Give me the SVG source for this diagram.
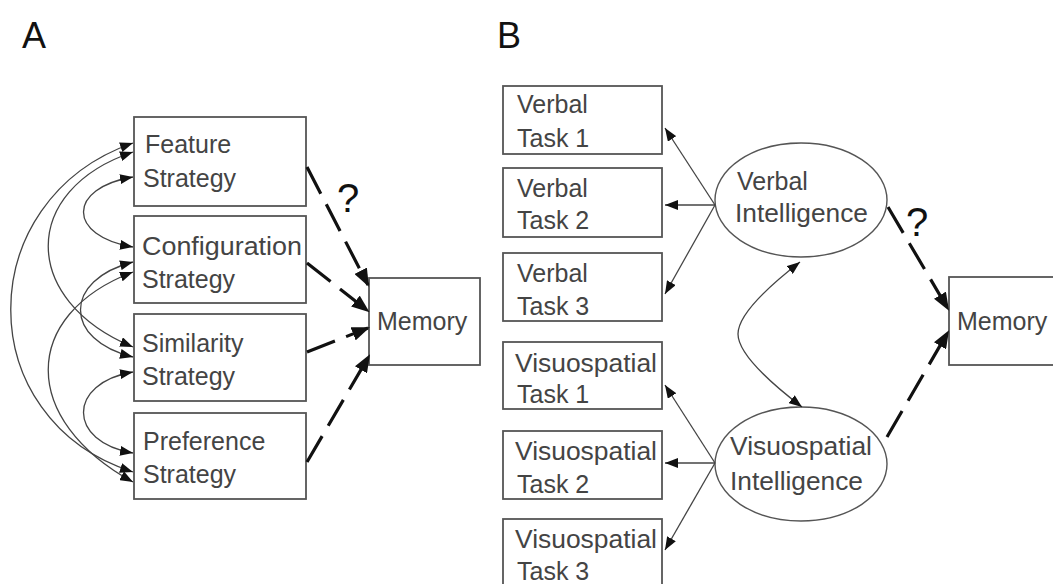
<svg xmlns="http://www.w3.org/2000/svg" width="1053" height="584" viewBox="0 0 1053 584">
<style>
.box{fill:#fff;stroke:#555;stroke-width:1.8}
.ell{fill:#fff;stroke:#555;stroke-width:1.4}
.t{font-family:"Liberation Sans",Arial,sans-serif;font-size:25px;fill:#444}
.lbl{font-family:"Liberation Sans",Arial,sans-serif;font-size:36px;fill:#111}
.q{font-family:"Liberation Sans",Arial,sans-serif;font-size:40px;fill:#111}
.thin{fill:none;stroke:#444;stroke-width:1.3;marker-end:url(#ah)}
.dbl{fill:none;stroke:#444;stroke-width:1.3;marker-start:url(#ah);marker-end:url(#ah)}
.dash{fill:none;stroke:#111;stroke-width:3.2;stroke-dasharray:30 12;marker-end:url(#ahb)}
</style>
<defs>
<marker id="ah" viewBox="0 0 13 10" refX="13" refY="5" markerWidth="13" markerHeight="10" markerUnits="userSpaceOnUse" orient="auto-start-reverse"><path d="M0,0 L13,5 L0,10 z" fill="#111"/></marker>
<marker id="ahb" viewBox="0 0 18 14" refX="16" refY="7" markerWidth="18" markerHeight="14" markerUnits="userSpaceOnUse" orient="auto"><path d="M0,0 L18,7 L0,14 z" fill="#111"/></marker>
</defs>
<rect width="1053" height="584" fill="#fff"/>
<text class="lbl" x="22" y="48">A</text>
<text class="lbl" x="497" y="48">B</text>

<g id="feature"><rect class="box" x="134" y="117" width="172" height="89"/><text class="t" x="145" y="153">Feature</text><text class="t" x="143" y="187">Strategy</text></g>
<g id="configuration"><rect class="box" x="134" y="216" width="172" height="87"/><text class="t" x="142" y="255" textLength="160" lengthAdjust="spacingAndGlyphs">Configuration</text><text class="t" x="142" y="288">Strategy</text></g>
<g id="similarity"><rect class="box" x="134" y="314" width="172" height="87"/><text class="t" x="142" y="352">Similarity</text><text class="t" x="142" y="385">Strategy</text></g>
<g id="preference"><rect class="box" x="134" y="413" width="172" height="86"/><text class="t" x="143" y="450">Preference</text><text class="t" x="143" y="483">Strategy</text></g>
<g id="memoryA"><rect class="box" x="369" y="278" width="111" height="87"/><text class="t" x="377" y="330">Memory</text></g>

<g id="verbal1"><rect class="box" x="503" y="86" width="159" height="68"/><text class="t" x="517" y="113">Verbal</text><text class="t" x="517" y="147">Task 1</text></g>
<g id="verbal2"><rect class="box" x="503" y="168" width="159" height="69"/><text class="t" x="517" y="197">Verbal</text><text class="t" x="517" y="229">Task 2</text></g>
<g id="verbal3"><rect class="box" x="503" y="253" width="159" height="68"/><text class="t" x="517" y="282">Verbal</text><text class="t" x="517" y="315">Task 3</text></g>
<g id="visuo1"><rect class="box" x="503" y="342" width="159" height="67"/><text class="t" x="515" y="372" textLength="142" lengthAdjust="spacingAndGlyphs">Visuospatial</text><text class="t" x="517" y="403">Task 1</text></g>
<g id="visuo2"><rect class="box" x="503" y="431" width="159" height="68"/><text class="t" x="515" y="460" textLength="142" lengthAdjust="spacingAndGlyphs">Visuospatial</text><text class="t" x="517" y="493">Task 2</text></g>
<g id="visuo3"><rect class="box" x="503" y="519" width="159" height="72"/><text class="t" x="515" y="548" textLength="142" lengthAdjust="spacingAndGlyphs">Visuospatial</text><text class="t" x="517" y="580">Task 3</text></g>
<g id="verbalInt"><ellipse class="ell" cx="801" cy="200" rx="86" ry="57"/><text class="t" x="737" y="190">Verbal</text><text class="t" x="735" y="222" textLength="133" lengthAdjust="spacingAndGlyphs">Intelligence</text></g>
<g id="visuoInt"><ellipse class="ell" cx="801" cy="464" rx="86" ry="57"/><text class="t" x="730" y="455" textLength="142" lengthAdjust="spacingAndGlyphs">Visuospatial</text><text class="t" x="730" y="490" textLength="133" lengthAdjust="spacingAndGlyphs">Intelligence</text></g>
<g id="memoryB"><rect class="box" x="949" y="277" width="120" height="88"/><text class="t" x="957" y="330">Memory</text></g>

<g id="connectors">
<path class="dbl" d="M133,177 C67,188 67,236 133,247"/>
<path class="dbl" d="M133,372 C67,383 67,442 133,453"/>
<path class="dbl" d="M133,262 C63,280 63,340 133,357"/>
<path class="dbl" d="M133,152 C20,190 20,300 133,347"/>
<path class="dbl" d="M133,272 C20,315 20,420 133,482"/>
<path class="dbl" d="M133,143 C-30,200 -30,420 133,472"/>
<path class="dash" d="M307,167 L368,285"/>
<path class="dash" d="M307,263 L368,311"/>
<path class="dash" d="M307,352 L368,328"/>
<path class="dash" d="M307,462 L369,356"/>
<path class="thin" d="M715,205 L665,128"/>
<path class="thin" d="M715,205 L665,205"/>
<path class="thin" d="M715,205 L665,294"/>
<path class="thin" d="M715,463 L665,385"/>
<path class="thin" d="M715,463 L665,463"/>
<path class="thin" d="M715,463 L665,550"/>
<path class="dbl" d="M800,262 Q738,310 738,334 Q738,358 802,407"/>
<path class="dash" d="M888,207 L948,309"/>
<path class="dash" d="M887,437 L948,332"/>
</g>
<text class="q" x="337" y="212">?</text>
<text class="q" x="906" y="236">?</text>
</svg>
